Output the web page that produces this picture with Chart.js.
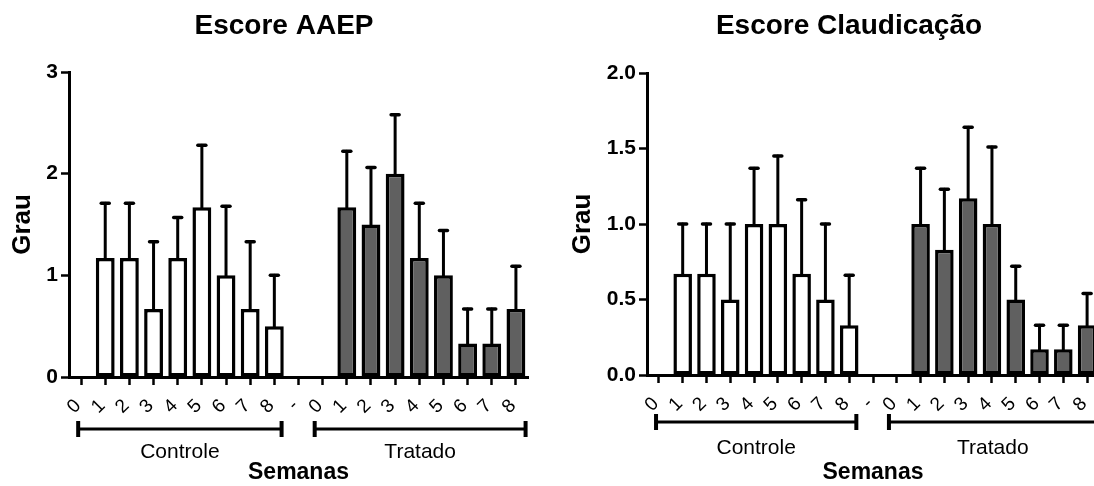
<!DOCTYPE html>
<html>
<head>
  <meta charset="utf-8">
  <title>Escore AAEP e Claudicação</title>
  <script src="https://cdn.jsdelivr.net/npm/chart.js"></script>
  <style>
    html, body { margin: 0; padding: 0; background: #fff; overflow: hidden; }
    #wrap { position: relative; width: 1094px; height: 486px; overflow: hidden; }
    #aaep { position: absolute; left: 0; top: 0; }
    #claud { position: absolute; left: 547px; top: 0; }
  </style>
</head>
<body>
<div id="wrap">
  <canvas id="aaep" width="547" height="486"></canvas>
  <canvas id="claud" width="580" height="486"></canvas>
</div>

<script>
  // semanas 0-8 (Controle), separador, semanas 0-8 (Tratado)
  const semanas = ['0', '1', '2', '3', '4', '5', '6', '7', '8'];
  const categorias = [...semanas, '-', ...semanas];
  const grupos = ['Controle', 'Tratado'];

  const aaepControle     = [0, 1.17, 1.17, 0.67, 1.17, 1.67, 1.0, 0.67, 0.5];
  const aaepControleErro = [0, 0.54, 0.54, 0.66, 0.40, 0.61, 0.68, 0.66, 0.5];
  const aaepTratado      = [0, 1.67, 1.5, 2.0, 1.17, 1.0, 0.33, 0.33, 0.67];
  const aaepTratadoErro  = [0, 0.55, 0.56, 0.58, 0.54, 0.44, 0.34, 0.34, 0.42];

  const claudControle     = [0, 0.67, 0.67, 0.5, 1.0, 1.0, 0.67, 0.5, 0.33];
  const claudControleErro = [0, 0.33, 0.33, 0.5, 0.37, 0.45, 0.49, 0.5, 0.33];
  const claudTratado      = [0, 1.0, 0.83, 1.17, 1.0, 0.5, 0.17, 0.17, 0.33];
  const claudTratadoErro  = [0, 0.37, 0.40, 0.47, 0.51, 0.22, 0.16, 0.16, 0.21];

  const aaepTicks = [0, 1, 2, 3];
  const claudTicks = [0, 0.5, 1.0, 1.5, 2.0];

  Chart.defaults.font.family = "'Liberation Sans', Arial, sans-serif";
  Chart.defaults.color = '#000';

  const vazio = Array(10).fill(null);

  // barras de erro, chaves dos grupos e título
  const decoracao = {
    id: 'decoracao',
    afterDatasetsDraw(chart) {
      const ctx = chart.ctx;
      const y = chart.scales.y;
      chart.data.datasets.forEach((ds, i) => {
        chart.getDatasetMeta(i).data.forEach((bar, j) => {
          const v = ds.data[j], e = ds.erros[j];
          if (v == null || !e) return;
          const yTop = y.getPixelForValue(v + e);
          ctx.save();
          ctx.strokeStyle = '#000';
          ctx.lineCap = 'round';
          ctx.lineWidth = 3;
          ctx.beginPath();
          ctx.moveTo(bar.x, bar.y);
          ctx.lineTo(bar.x, yTop);
          ctx.stroke();
          ctx.lineWidth = 3.5;
          ctx.beginPath();
          ctx.moveTo(bar.x - 4, yTop);
          ctx.lineTo(bar.x + 4, yTop);
          ctx.stroke();
          ctx.restore();
        });
      });
    },
    afterDraw(chart, args, opts) {
      const ctx = chart.ctx;
      const x = chart.scales.x;
      ctx.save();
      ctx.fillStyle = '#000';
      ctx.strokeStyle = '#000';
      ctx.textAlign = 'center';
      ctx.textBaseline = 'middle';

      ctx.font = "bold 28px 'Liberation Sans', Arial, sans-serif";
      ctx.fillText(opts.titulo, opts.tituloX, 26);

      opts.chaves.forEach((c, k) => {
        const x1 = x.getPixelForValue(c[0]);
        const x2 = x.getPixelForValue(c[1]);
        ctx.lineWidth = 3;
        ctx.beginPath();
        ctx.moveTo(x1, opts.chaveY);
        ctx.lineTo(x2, opts.chaveY);
        ctx.stroke();
        ctx.lineWidth = 4;
        ctx.beginPath();
        ctx.moveTo(x1, opts.chaveY - 8);
        ctx.lineTo(x1, opts.chaveY + 8);
        ctx.moveTo(x2, opts.chaveY - 8);
        ctx.lineTo(x2, opts.chaveY + 8);
        ctx.stroke();
        ctx.font = "21px 'Liberation Sans', Arial, sans-serif";
        ctx.fillText(grupos[k], (x1 + x2) / 2, opts.grupoY);
      });
      ctx.restore();
    }
  };

  function criarGrafico(id, o) {
    return new Chart(document.getElementById(id), {
      type: 'bar',
      data: {
        labels: categorias,
        datasets: [
          {
            label: 'Controle',
            data: o.controle.concat(vazio),
            erros: o.controleErro.concat(vazio),
            backgroundColor: '#ffffff'
          },
          {
            label: 'Tratado',
            data: vazio.concat(o.tratado),
            erros: vazio.concat(o.tratadoErro),
            backgroundColor: '#606060'
          }
        ]
      },
      options: {
        responsive: false,
        animation: false,
        layout: { padding: { top: o.topo, right: o.direita, left: 0, bottom: 0 } },
        datasets: {
          bar: {
            grouped: false,
            borderColor: '#000',
            borderWidth: 3.5,
            borderSkipped: false,
            barPercentage: 0.78,
            categoryPercentage: 1
          }
        },
        plugins: {
          legend: { display: false },
          tooltip: { enabled: false },
          decoracao: {
            titulo: o.titulo,
            tituloX: o.tituloX,
            chaves: [[-0.12, 8.3], [9.67, 18.4]],
            chaveY: o.chaveY,
            grupoY: o.grupoY
          }
        },
        scales: {
          x: {
            afterFit: s => { s.height = o.alturaX; },
            border: { display: true, color: '#000', width: 3 },
            grid: {
              offset: false,
              drawOnChartArea: false,
              drawTicks: true,
              tickLength: 8,
              tickWidth: 2.5,
              tickColor: '#000'
            },
            ticks: {
              autoSkip: false,
              minRotation: 45,
              maxRotation: 45,
              padding: 11,
              labelOffset: -3,
              font: { size: 19, lineHeight: 1 }
            },
            title: {
              display: true,
              text: 'Semanas',
              font: { size: 23, weight: 'bold', lineHeight: 1 },
              padding: { top: 0, bottom: 2 }
            }
          },
          y: {
            min: 0,
            max: o.max,
            afterFit: s => { s.width = o.larguraY; },
            afterBuildTicks: s => { s.ticks = o.ticks.map(v => ({ value: v })); },
            border: { display: true, color: '#000', width: 3 },
            grid: {
              drawOnChartArea: false,
              drawTicks: true,
              tickLength: 8,
              tickWidth: 2.5,
              tickColor: '#000'
            },
            ticks: {
              padding: 3,
              font: { size: 21, weight: 'bold' },
              callback: v => v.toFixed(o.casas)
            },
            title: {
              display: true,
              text: 'Grau',
              font: { size: 26, weight: 'bold' },
              padding: { top: o.grauPad, bottom: 0 }
            }
          }
        }
      },
      plugins: [decoracao]
    });
  }

  criarGrafico('aaep', {
    titulo: 'Escore AAEP', tituloX: 284,
    controle: aaepControle, controleErro: aaepControleErro,
    tratado: aaepTratado, tratadoErro: aaepTratadoErro,
    ticks: aaepTicks, max: 3, casas: 0,
    topo: 72, direita: 19, alturaX: 109, larguraY: 69, grauPad: 7,
    chaveY: 429, grupoY: 452
  });

  criarGrafico('claud', {
    titulo: 'Escore Claudicação', tituloX: 302,
    controle: claudControle, controleErro: claudControleErro,
    tratado: claudTratado, tratadoErro: claudTratadoErro,
    ticks: claudTicks, max: 2, casas: 1,
    topo: 73, direita: 28, alturaX: 111, larguraY: 100, grauPad: 20,
    chaveY: 422, grupoY: 448
  });
</script>
</body>
</html>
